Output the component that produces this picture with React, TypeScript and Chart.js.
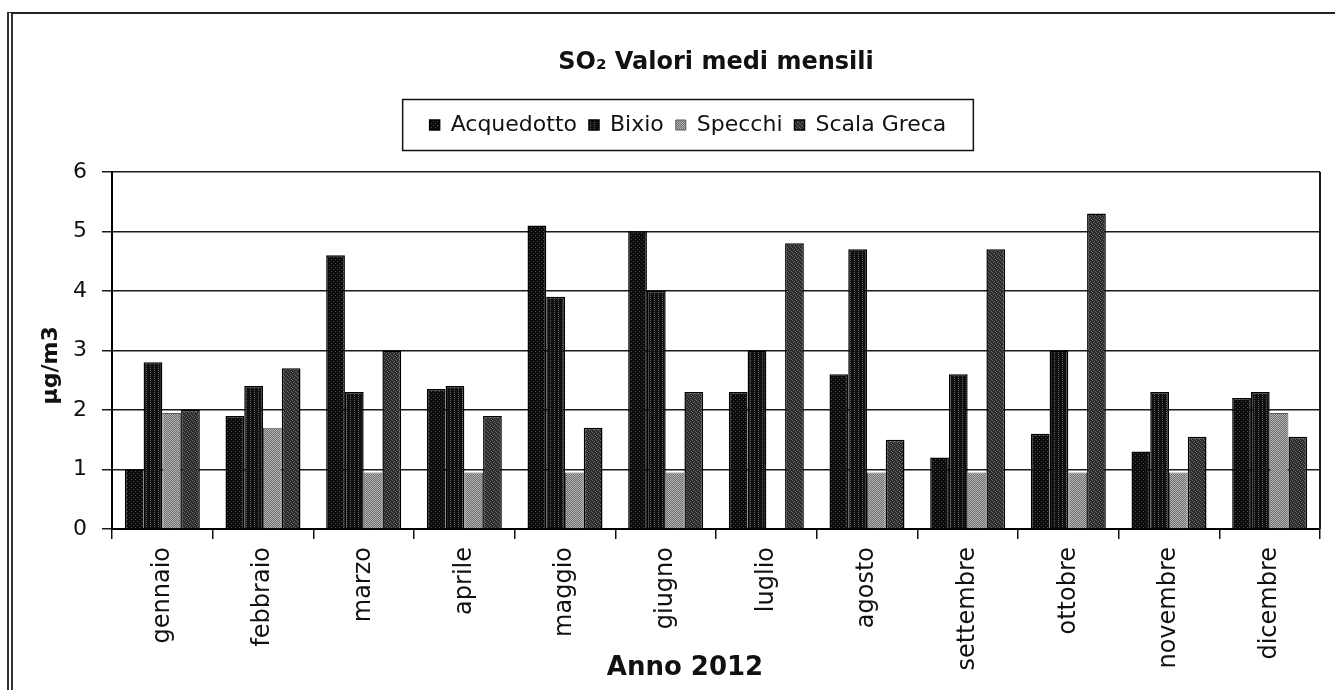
import React, { useEffect, useRef } from 'react';
import { Chart, registerables } from 'chart.js';

Chart.register(...registerables);

// ---------- data ----------
const months = [
  'gennaio', 'febbraio', 'marzo', 'aprile', 'maggio', 'giugno',
  'luglio', 'agosto', 'settembre', 'ottobre', 'novembre', 'dicembre',
];
const seriesNames = ['Acquedotto', 'Bixio', 'Specchi', 'Scala Greca'];
const acquedotto = [1.0, 1.9, 4.6, 2.35, 5.1, 5.0, 2.3, 2.6, 1.2, 1.6, 1.3, 2.2];
const bixio = [2.8, 2.4, 2.3, 2.4, 3.9, 4.0, 3.0, 4.7, 2.6, 3.0, 2.3, 2.3];
const specchi = [1.95, 1.7, 0.95, 0.95, 0.95, 0.95, null, 0.95, 0.95, 0.95, 0.95, 1.95];
const scalaGreca = [2.0, 2.7, 3.0, 1.9, 1.7, 2.3, 4.8, 1.5, 4.7, 5.3, 1.55, 1.55];
const yTicks = [0, 1, 2, 3, 4, 5, 6];
const chartTitle = 'SO\u2082 Valori medi mensili';
const xTitle = 'Anno 2012';
const yTitle = '\u00b5g/m3';

const FONT = "'DejaVu Sans', 'Liberation Sans', sans-serif";

function makePattern(bg: string, fg: string, cells: number[][]) {
  const c = document.createElement('canvas');
  c.width = 4;
  c.height = 4;
  const x = c.getContext('2d')!;
  x.fillStyle = bg;
  x.fillRect(0, 0, 4, 4);
  x.fillStyle = fg;
  cells.forEach(([i, j]) => x.fillRect(i, j, 1, 1));
  return x.createPattern(c, 'repeat')!;
}

function shiftTitle(scale: any, dx: number, dy: number) {
  if (!scale || scale.__shifted) return;
  const orig = scale.drawTitle;
  scale.drawTitle = function (...args: any[]) {
    this.ctx.save();
    this.ctx.translate(dx, dy);
    orig.apply(this, args);
    this.ctx.restore();
  };
  scale.__shifted = true;
}

const framePlugin = {
  id: 'framePlugin',
  afterUpdate(chart: any) {
    shiftTitle(chart.scales.x, -31, 0);
    shiftTitle(chart.scales.y, 0, 15);
    const lg: any = chart.legend;
    if (!lg || !lg.legendHitBoxes || !lg.legendHitBoxes.length) return;
    const hb = lg.legendHitBoxes;
    const first = hb[0];
    const last = hb[hb.length - 1];
    const cx = (first.left + last.left + last.width) / 2;
    const cy = first.top + first.height / 2;
    const dx = 688 - cx;
    const dy = 125 - cy;
    lg.left += dx;
    lg.right += dx;
    lg.top += dy;
    lg.bottom += dy;
    hb.forEach((h: any) => {
      h.left += dx;
      h.top += dy;
    });
  },
  beforeDatasetsDraw(chart: any) {
    const { ctx, chartArea } = chart;
    ctx.save();
    ctx.strokeStyle = '#1a1a1a';
    ctx.lineWidth = 2;
    ctx.beginPath();
    ctx.moveTo(chartArea.right, chartArea.top);
    ctx.lineTo(chartArea.right, chartArea.bottom);
    ctx.stroke();
    ctx.restore();
  },
  afterDraw(chart: any) {
    const lg: any = chart.legend;
    if (!lg || !lg.legendHitBoxes || !lg.legendHitBoxes.length) return;
    const hb = lg.legendHitBoxes;
    const first = hb[0];
    const last = hb[hb.length - 1];
    const cy = first.top + first.height / 2;
    const { ctx } = chart;
    ctx.save();
    ctx.strokeStyle = '#111';
    ctx.lineWidth = 1.5;
    ctx.strokeRect(first.left - 27, cy - 25.5, last.left + last.width - first.left + 54, 51);
    ctx.restore();
  },
};

export default function App() {
  const ref = useRef<HTMLCanvasElement>(null);

  useEffect(() => {
    const pAcq = makePattern('#0c0c0c', '#4a4a4a', [[1, 1], [3, 3]]);
    const pBix = makePattern('#101010', '#5e5e5e', [[2, 0], [2, 2]]);
    const pSpe = makePattern('#6e6e6e', '#b4b4b4', [[0, 0], [2, 0], [1, 1], [3, 1], [0, 2], [2, 2], [1, 3], [3, 3]]);
    const pSca = makePattern('#2a2a2a', '#6a6a6a', [[0, 0], [2, 1], [1, 2], [3, 3]]);

    const chart = new Chart(ref.current!, {
      type: 'bar',
      data: {
        labels: months,
        datasets: [
          { label: seriesNames[0], data: acquedotto, backgroundColor: pAcq, borderColor: '#000', borderWidth: 1.5 },
          { label: seriesNames[1], data: bixio, backgroundColor: pBix, borderColor: '#000', borderWidth: 1.5 },
          { label: seriesNames[2], data: specchi, backgroundColor: pSpe, borderColor: '#5a5a5a', borderWidth: 1 },
          { label: seriesNames[3], data: scalaGreca, backgroundColor: pSca, borderColor: '#000', borderWidth: 1.5 },
        ] as any,
      },
      options: {
        responsive: false,
        animation: false,
        layout: { padding: { left: 30, right: 15, top: 0, bottom: 2 } },
        datasets: { bar: { barPercentage: 1, categoryPercentage: 0.745 } },
        plugins: {
          tooltip: { enabled: false },
          title: {
            display: true,
            text: chartTitle,
            fullSize: false,
            color: '#111',
            font: { family: FONT, size: 24, weight: 'bold' },
            padding: { top: 48, bottom: 51 },
          },
          legend: {
            display: true,
            position: 'top',
            labels: {
              color: '#111',
              font: { family: FONT, size: 22 },
              boxWidth: 10,
              boxHeight: 10,
              padding: 12,
            },
          },
        },
        scales: {
          x: {
            grid: {
              display: true,
              drawOnChartArea: false,
              drawTicks: true,
              tickLength: 10,
              color: '#111',
              lineWidth: 1.5,
              offset: true,
            },
            border: { display: true, color: '#000', width: 2 },
            ticks: {
              color: '#111',
              font: { family: FONT, size: 24 },
              minRotation: 90,
              maxRotation: 90,
              padding: 8,
              autoSkip: false,
            },
            title: {
              display: true,
              text: xTitle,
              color: '#111',
              font: { family: FONT, size: 26, weight: 'bold' },
              padding: { top: 0, bottom: 4 },
            },
            afterFit: (s: any) => {
              s.height = 159;
            },
          },
          y: {
            min: yTicks[0],
            max: yTicks[yTicks.length - 1],
            grid: {
              display: true,
              drawTicks: true,
              tickLength: 10,
              color: '#1a1a1a',
              lineWidth: 1.5,
            },
            border: { display: true, color: '#000', width: 2 },
            ticks: {
              stepSize: 1,
              color: '#111',
              font: { family: FONT, size: 22 },
              padding: 15,
            },
            title: {
              display: true,
              text: yTitle,
              color: '#111',
              font: { family: FONT, size: 22, weight: 'bold' },
              padding: { top: 8, bottom: 0 },
            },
            afterFit: (s: any) => {
              s.width = 82;
            },
          },
        },
      } as any,
      plugins: [framePlugin],
    });
    return () => chart.destroy();
  }, []);

  return (
    <div style={{ position: 'fixed', left: 0, top: 0, width: 1335, height: 690, overflow: 'hidden', background: '#fff' }}>
      <div
        style={{
          position: 'absolute',
          left: 7,
          top: 12,
          width: 1400,
          height: 800,
          borderLeft: '6px double #333',
          borderTop: '2px solid #222',
        }}
      />
      <canvas
        ref={ref}
        width={1335}
        height={690}
        style={{ position: 'absolute', left: 0, top: 0, width: 1335, height: 690, display: 'block' }}
      />
    </div>
  );
}
